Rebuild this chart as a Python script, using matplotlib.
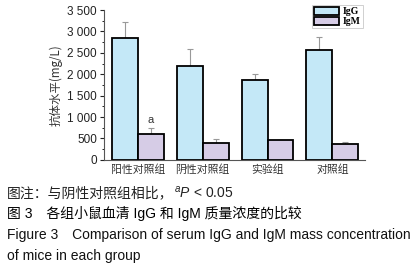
import matplotlib
matplotlib.use("Agg")
import matplotlib.pyplot as plt
import numpy as np
from matplotlib.ticker import MultipleLocator, FuncFormatter

plt.rcParams['font.family'] = ['Liberation Sans', 'Noto Sans CJK SC']
plt.rcParams['mathtext.fontset'] = 'custom'
plt.rcParams['mathtext.rm'] = 'Liberation Sans'
plt.rcParams['mathtext.it'] = 'Liberation Sans:italic'

# data
groups = ['阳性对照组', '阴性对照组', '实验组', '对照组']
igg = [2850, 2200, 1870, 2560]
igg_err = [360, 380, 140, 300]
igm = [610, 390, 460, 380]
igm_err = [140, 90, 10, 45]

cjk = ['Noto Sans CJK SC', 'DejaVu Sans']

fig = plt.figure(figsize=(4.16, 2.71), dpi=100)
ax = fig.add_axes([0.25, 0.41, 0.627, 0.553])

x = np.arange(len(groups))
w = 0.4
ax.bar(x - w/2, igg, w, color='#c4e8f7', edgecolor='black', linewidth=1.3, label='IgG', zorder=2)
ax.bar(x + w/2, igm, w, color='#d6cce6', edgecolor='black', linewidth=1.3, label='IgM', zorder=2)
ax.errorbar(x - w/2, igg, yerr=[np.zeros(4), igg_err], fmt='none', ecolor='#999999',
            elinewidth=0.8, capsize=2, capthick=0.8, zorder=1)
ax.errorbar(x + w/2, igm, yerr=[np.zeros(4), igm_err], fmt='none', ecolor='#999999',
            elinewidth=0.8, capsize=2, capthick=0.8, zorder=1)
ax.text(x[0] + w/2, igm[0] + igm_err[0] + 60, 'a', ha='center', va='bottom', fontsize=8, color='#333333')

ax.set_xlim(-0.52, 3.5)
ax.set_ylim(0, 3500)
ax.yaxis.set_major_locator(MultipleLocator(500))
ax.yaxis.set_minor_locator(MultipleLocator(250))
ax.yaxis.set_major_formatter(FuncFormatter(lambda v, p: f"{int(v):,}".replace(',', ' ')))
ax.tick_params(axis='y', labelsize=8.5, length=3, width=0.8, pad=2, colors='#222222')
ax.tick_params(axis='y', which='minor', length=1.8, width=0.6)
ax.set_xticks(x)
ax.set_xticklabels(groups, fontfamily=cjk, fontsize=7.8, color='#333333')
ax.tick_params(axis='x', length=0, pad=3)
for s in ['top', 'right']:
    ax.spines[s].set_visible(False)
ax.spines['left'].set_color('#555555')
ax.spines['bottom'].set_color('#555555')
ax.set_ylabel('抗体水平(mg/L)', fontfamily=cjk, fontsize=8.3, color='#333333', labelpad=3)

leg = ax.legend(loc='upper right', bbox_to_anchor=(1.0, 1.045),
                prop={'family': 'Liberation Serif', 'weight': 'bold', 'size': 7},
                frameon=True, fancybox=False, edgecolor='#bbbbbb', handlelength=2.6,
                handleheight=0.8, borderpad=0.2, labelspacing=0.1, handletextpad=0.4,
                borderaxespad=0.2)
leg.get_frame().set_linewidth(0.6)

t1 = fig.text(0.017, 0.288, '图注：与阴性对照组相比，', fontsize=10, va='center',
              color='#222222', fontfamily=cjk)
fig.canvas.draw()
bb = t1.get_window_extent(fig.canvas.get_renderer()).transformed(fig.transFigure.inverted())
fig.text(bb.x1, 0.288, '$^{a}P$ < 0.05', fontsize=10, va='center', color='#222222')
fig.text(0.017, 0.214, '图 3　各组小鼠血清 IgG 和 IgM 质量浓度的比较', fontsize=10, va='center',
         color='#000000')
fig.text(0.017, 0.133, 'Figure 3　Comparison of serum IgG and IgM mass concentration', fontsize=10,
         va='center', color='#111111')
fig.text(0.017, 0.055, 'of mice in each group', fontsize=10, va='center', color='#111111')

fig.savefig('out.png', dpi=100)
